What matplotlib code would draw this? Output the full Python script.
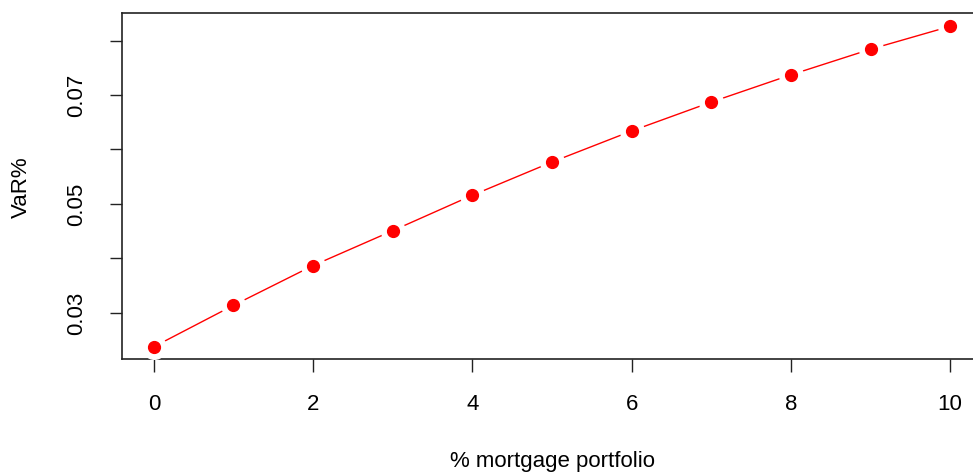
import numpy as np
import matplotlib.pyplot as plt

plt.rcParams['font.family'] = ['Liberation Sans', 'DejaVu Sans']

# % del portafolio hipotecario y VaR%
pct_mortgage = [0, 1, 2, 3, 4, 5, 6, 7, 8, 9, 10]
var_pct = [0.0238, 0.0314, 0.0387, 0.0451, 0.0516, 0.0577,
           0.0634, 0.0687, 0.0737, 0.0784, 0.0826]
yticks = [0.03, 0.04, 0.05, 0.06, 0.07, 0.08]
ylabels = ['0.03', '', '0.05', '', '0.07', '']

fig = plt.figure(figsize=(9.73, 4.76), dpi=100)
ax = fig.add_axes([122/973, 117/476, 860/973, 346/476])

# estilo type="b" de R: linea con huecos alrededor de cada punto
ax.plot(pct_mortgage, var_pct, color='red', lw=1, zorder=2)
ax.plot(pct_mortgage, var_pct, 'o', ms=17, color='white', mec='white', zorder=3)
ax.plot(pct_mortgage, var_pct, 'o', ms=8.5, color='red', mec='red', zorder=4)

ax.set_xlim(-0.4, 10.4)
ax.set_ylim(0.02155, 0.08505)
ax.set_xticks([0, 2, 4, 6, 8, 10])
ax.set_yticks(yticks)
ax.set_yticklabels(ylabels, rotation=90, va='center')
ax.tick_params(labelsize=16, length=9, width=1, color='#222222')
ax.tick_params(axis='x', pad=16)
ax.tick_params(axis='y', pad=16)
for s in ax.spines.values():
    s.set_linewidth(1.2)
    s.set_color('#222222')

fig.text(552/973, 1 - 462/476, '% mortgage portfolio', ha='center', va='center', fontsize=16)
fig.text(21/973, 1 - 187/476, 'VaR%', ha='center', va='center', rotation=90, fontsize=16)

fig.savefig('out.png', dpi=100)
